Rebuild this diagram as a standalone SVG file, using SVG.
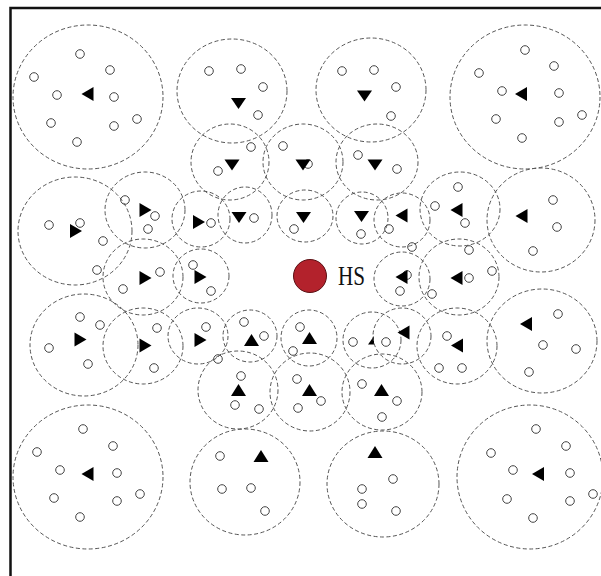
<svg xmlns="http://www.w3.org/2000/svg" xmlns:xlink="http://www.w3.org/1999/xlink" width="601" height="576" viewBox="0 0 601 576">
<style>
.rng{fill:none;stroke:#555;stroke-width:1;stroke-dasharray:4 2.5}
.nd{fill:none;stroke:#444;stroke-width:1}
.tri{fill:#000}
.hs{fill:#b3222c;stroke:#5a1014;stroke-width:1}
.lbl{font-family:"Liberation Serif","DejaVu Serif",serif;font-size:27px;fill:#111}
</style>
<defs>
<path id="tR" d="M-6,-7 L6,0 L-6,7 Z"/>
<path id="tL" d="M6,-7 L-6,0 L6,7 Z"/>
<path id="tD" d="M-7.5,-5.5 L7.5,-5.5 L0,5.5 Z"/>
<path id="tU" d="M-7.5,6 L7.5,6 L0,-6 Z"/>
<circle id="s" r="4.3"/>
</defs>
<rect width="601" height="576" fill="#fff"/>
<g id="border" fill="none" stroke="#111" stroke-width="2.5">
<path d="M10.5,576 L10.5,8 L601,8"/>
</g>
<g id="connectors"></g>

<g id="c1"><ellipse class="rng" cx="88" cy="97" rx="75" ry="72"/><use href="#tL" class="tri" x="87.5" y="94"/>
<g class="nd"><use href="#s" x="80" y="54"/><use href="#s" x="110" y="70"/><use href="#s" x="34" y="77"/><use href="#s" x="57" y="95"/><use href="#s" x="114" y="97"/><use href="#s" x="137" y="119"/><use href="#s" x="51" y="123"/><use href="#s" x="114" y="126"/><use href="#s" x="77" y="142"/></g></g>

<g id="c2"><ellipse class="rng" cx="525" cy="97" rx="75" ry="72"/><use href="#tL" class="tri" x="521" y="94"/>
<g class="nd"><use href="#s" x="525" y="50"/><use href="#s" x="554" y="66"/><use href="#s" x="479" y="73"/><use href="#s" x="502" y="91"/><use href="#s" x="559" y="93"/><use href="#s" x="582" y="115"/><use href="#s" x="496" y="119"/><use href="#s" x="559" y="122"/><use href="#s" x="522" y="138"/></g></g>

<g id="c3"><ellipse class="rng" cx="88" cy="477" rx="75" ry="72"/><use href="#tL" class="tri" x="87.5" y="474"/>
<g class="nd"><use href="#s" x="83" y="429"/><use href="#s" x="113" y="446"/><use href="#s" x="37" y="452"/><use href="#s" x="60" y="470"/><use href="#s" x="117" y="473"/><use href="#s" x="140" y="494"/><use href="#s" x="54" y="498"/><use href="#s" x="117" y="501"/><use href="#s" x="80" y="517"/></g></g>

<g id="c4"><ellipse class="rng" cx="530" cy="477" rx="73" ry="72"/><use href="#tL" class="tri" x="538" y="474"/>
<g class="nd"><use href="#s" x="536" y="429"/><use href="#s" x="566" y="446"/><use href="#s" x="491" y="453"/><use href="#s" x="513" y="470"/><use href="#s" x="570" y="473"/><use href="#s" x="593" y="494"/><use href="#s" x="507" y="499"/><use href="#s" x="570" y="501"/><use href="#s" x="533" y="518"/></g></g>

<g id="c5"><ellipse class="rng" cx="232" cy="91" rx="55" ry="52"/><use href="#tD" class="tri" x="238.5" y="103.5"/>
<g class="nd"><use href="#s" x="209" y="71"/><use href="#s" x="241" y="69"/><use href="#s" x="263" y="87"/><use href="#s" x="258" y="115"/></g></g>

<g id="c6"><ellipse class="rng" cx="371" cy="90" rx="55" ry="52"/><use href="#tD" class="tri" x="364.5" y="96"/>
<g class="nd"><use href="#s" x="342" y="71"/><use href="#s" x="374" y="70"/><use href="#s" x="396" y="87"/><use href="#s" x="391" y="116"/></g></g>

<g id="c7"><ellipse class="rng" cx="230" cy="162" rx="39" ry="38"/><use href="#tD" class="tri" x="232" y="165"/>
<g class="nd"><use href="#s" x="251" y="147"/><use href="#s" x="218" y="171"/></g></g>

<g id="c8"><ellipse class="rng" cx="303" cy="162" rx="40" ry="38"/>
<g class="nd"><use href="#s" x="283" y="146"/><use href="#s" x="308" y="164"/></g><use href="#tD" class="tri" x="303" y="165"/></g>

<g id="c9"><ellipse class="rng" cx="377" cy="162" rx="41" ry="38"/><use href="#tD" class="tri" x="375" y="165"/>
<g class="nd"><use href="#s" x="358" y="155"/><use href="#s" x="397" y="169"/></g></g>

<g id="c10"><ellipse class="rng" cx="75" cy="231" rx="57" ry="54"/><use href="#tR" class="tri" x="76" y="231"/>
<g class="nd"><use href="#s" x="49" y="225"/><use href="#s" x="80" y="223"/><use href="#s" x="103" y="241"/><use href="#s" x="97" y="270"/></g></g>

<g id="c11"><ellipse class="rng" cx="145" cy="210" rx="40" ry="38"/><use href="#tR" class="tri" x="145.5" y="210"/>
<g class="nd"><use href="#s" x="125" y="200"/><use href="#s" x="155" y="216"/><use href="#s" x="148" y="229"/></g></g>

<g id="c12"><ellipse class="rng" cx="201" cy="219" rx="29" ry="28"/><use href="#tR" class="tri" x="199" y="222"/>
<g class="nd"><use href="#s" x="211" y="223"/></g></g>

<g id="c13"><ellipse class="rng" cx="245" cy="215" rx="27" ry="28"/><use href="#tD" class="tri" x="239" y="217.5"/>
<g class="nd"><use href="#s" x="254" y="218"/></g></g>

<g id="c14"><ellipse class="rng" cx="305" cy="216" rx="28" ry="26"/><use href="#tD" class="tri" x="303.5" y="217.5"/>
<g class="nd"><use href="#s" x="294" y="229"/></g></g>

<g id="c15"><ellipse class="rng" cx="362" cy="218" rx="26" ry="26"/><use href="#tD" class="tri" x="361.5" y="216.5"/>
<g class="nd"><use href="#s" x="361" y="234"/></g></g>

<g id="c16"><ellipse class="rng" cx="402" cy="220" rx="28" ry="27"/><use href="#tL" class="tri" x="401.5" y="215.5"/>
<g class="nd"><use href="#s" x="389" y="229"/><use href="#s" x="412" y="247"/></g></g>

<g id="c17"><ellipse class="rng" cx="460" cy="209" rx="40" ry="37"/><use href="#tL" class="tri" x="456.5" y="210"/>
<g class="nd"><use href="#s" x="435" y="206"/><use href="#s" x="458" y="187"/><use href="#s" x="465" y="223"/></g></g>

<g id="c18"><ellipse class="rng" cx="541" cy="220" rx="54" ry="52"/><use href="#tL" class="tri" x="521.5" y="216"/>
<g class="nd"><use href="#s" x="553" y="200"/><use href="#s" x="557" y="227"/><use href="#s" x="533" y="251"/></g></g>

<g id="c19"><ellipse class="rng" cx="143" cy="277" rx="40" ry="38"/><use href="#tR" class="tri" x="145.5" y="278"/>
<g class="nd"><use href="#s" x="160" y="272"/><use href="#s" x="123" y="289"/></g></g>

<g id="c20"><ellipse class="rng" cx="201" cy="276" rx="28" ry="27"/><use href="#tR" class="tri" x="200.5" y="277"/>
<g class="nd"><use href="#s" x="193" y="265"/><use href="#s" x="211" y="291"/></g></g>

<g id="hs"><circle class="hs" cx="310" cy="276" r="16.5"/><text class="lbl" x="338" y="285" textLength="27" lengthAdjust="spacingAndGlyphs">HS</text></g>

<g id="c21"><ellipse class="rng" cx="402" cy="279" rx="28" ry="27"/>
<g class="nd"><use href="#s" x="407" y="275"/><use href="#s" x="400" y="291"/></g><use href="#tL" class="tri" x="401.5" y="277"/></g>

<g id="c22"><ellipse class="rng" cx="459" cy="277" rx="40" ry="38"/><use href="#tL" class="tri" x="456.5" y="278"/>
<g class="nd"><use href="#s" x="469" y="250"/><use href="#s" x="469" y="278"/><use href="#s" x="492" y="271"/><use href="#s" x="432" y="294"/></g></g>

<g id="c23"><ellipse class="rng" cx="84" cy="345" rx="54" ry="51"/><use href="#tR" class="tri" x="80.5" y="339.5"/>
<g class="nd"><use href="#s" x="80" y="317"/><use href="#s" x="100" y="325"/><use href="#s" x="49" y="348"/><use href="#s" x="88" y="364"/></g></g>

<g id="c24"><ellipse class="rng" cx="143" cy="346" rx="40" ry="38"/><use href="#tR" class="tri" x="145.5" y="345.5"/>
<g class="nd"><use href="#s" x="157" y="328"/><use href="#s" x="154" y="368"/></g></g>

<g id="c25"><ellipse class="rng" cx="198" cy="336" rx="30" ry="28"/><use href="#tR" class="tri" x="200.5" y="340"/>
<g class="nd"><use href="#s" x="206" y="327"/><use href="#s" x="218" y="359"/></g></g>

<g id="c26"><ellipse class="rng" cx="250" cy="336" rx="27" ry="26"/><use href="#tU" class="tri" x="251.5" y="340"/>
<g class="nd"><use href="#s" x="244" y="322"/><use href="#s" x="264" y="336"/></g></g>

<g id="c27"><ellipse class="rng" cx="309" cy="338" rx="28" ry="28"/><use href="#tU" class="tri" x="309.5" y="338"/>
<g class="nd"><use href="#s" x="300" y="327"/><use href="#s" x="293" y="351"/></g></g>

<g id="c28"><ellipse class="rng" cx="372" cy="340" rx="29" ry="28"/><path class="tri" d="M368,344.5 L374,336 L374,344.5 Z"/>
<g class="nd"><use href="#s" x="353" y="342"/><use href="#s" x="386" y="342"/></g></g>

<g id="c29"><ellipse class="rng" cx="402" cy="336" rx="29" ry="28"/><use href="#tL" class="tri" x="403.5" y="332.5"/></g>

<g id="c30"><ellipse class="rng" cx="457" cy="346" rx="40" ry="38"/><use href="#tL" class="tri" x="457" y="345.5"/>
<g class="nd"><use href="#s" x="447" y="336"/><use href="#s" x="439" y="368"/><use href="#s" x="462" y="368"/></g></g>

<g id="c31"><ellipse class="rng" cx="542" cy="341" rx="55" ry="52"/><use href="#tL" class="tri" x="526" y="324"/>
<g class="nd"><use href="#s" x="558" y="314"/><use href="#s" x="543" y="345"/><use href="#s" x="576" y="349"/><use href="#s" x="529" y="372"/></g></g>

<g id="c32"><ellipse class="rng" cx="238" cy="390" rx="40" ry="39"/><use href="#tU" class="tri" x="238.5" y="390"/>
<g class="nd"><use href="#s" x="241" y="376"/><use href="#s" x="235" y="405"/><use href="#s" x="259" y="409"/></g></g>

<g id="c33"><ellipse class="rng" cx="310" cy="392" rx="40" ry="39"/><use href="#tU" class="tri" x="309.5" y="390"/>
<g class="nd"><use href="#s" x="297" y="379"/><use href="#s" x="298" y="408"/><use href="#s" x="321" y="401"/></g></g>

<g id="c34"><ellipse class="rng" cx="382" cy="392" rx="40" ry="38"/><use href="#tU" class="tri" x="381.5" y="390"/>
<g class="nd"><use href="#s" x="362" y="384"/><use href="#s" x="382" y="417"/><use href="#s" x="397" y="401"/></g></g>

<g id="c35"><ellipse class="rng" cx="245" cy="482" rx="55" ry="53"/><use href="#tU" class="tri" x="261" y="456"/>
<g class="nd"><use href="#s" x="220" y="456"/><use href="#s" x="222" y="489"/><use href="#s" x="251" y="488"/><use href="#s" x="265" y="511"/></g></g>

<g id="c36"><ellipse class="rng" cx="383" cy="484" rx="56" ry="53"/><use href="#tU" class="tri" x="375" y="452"/>
<g class="nd"><use href="#s" x="393" y="479"/><use href="#s" x="362" y="489"/><use href="#s" x="362" y="504"/><use href="#s" x="396" y="511"/></g></g>
</svg>
